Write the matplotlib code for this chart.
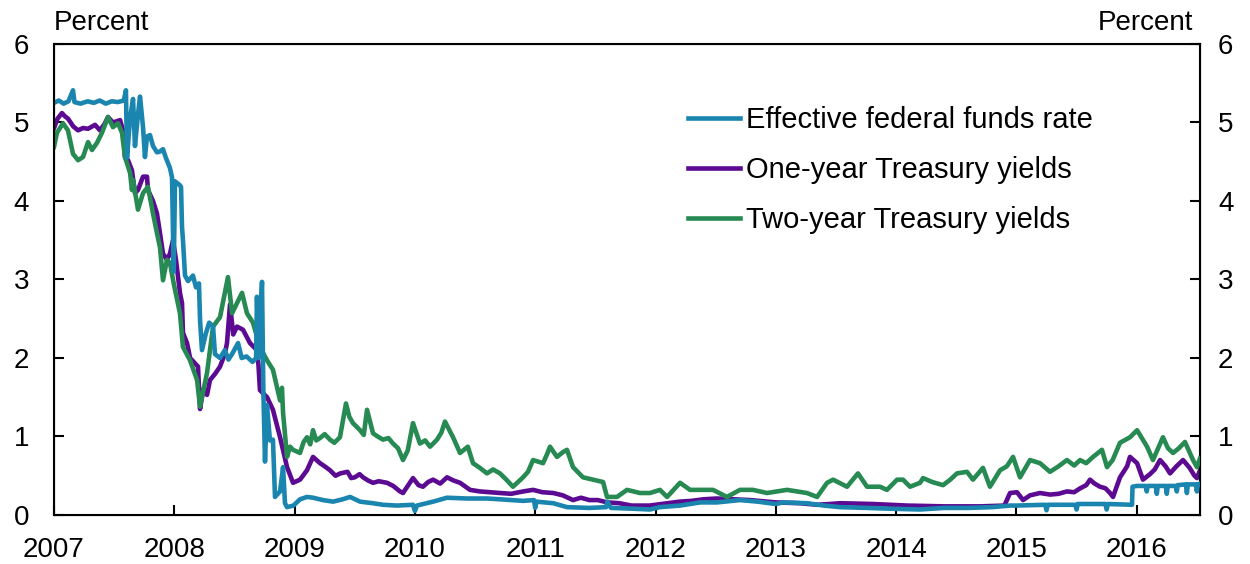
# -*- coding: utf-8 -*-

"""
Effective federal funds rate against one- and two-year Treasury yields, 2007-2016.
"""

import matplotlib

matplotlib.use("Agg")

import matplotlib.pyplot as plt

plt.rcParams["font.family"] = ["Liberation Sans", "DejaVu Sans"]

# Values (decimal year, percent).

fed_funds_dates = [
    2007.000, 2007.040, 2007.080, 2007.120, 2007.158, 2007.170, 2007.220,
    2007.280, 2007.330, 2007.380, 2007.430, 2007.480, 2007.530, 2007.580,
    2007.598, 2007.607, 2007.632, 2007.657, 2007.673, 2007.698, 2007.715,
    2007.740, 2007.756, 2007.773, 2007.798, 2007.823, 2007.856, 2007.881,
    2007.906, 2007.930, 2007.964, 2007.981, 2007.995, 2008.006, 2008.047,
    2008.056, 2008.064, 2008.072, 2008.089, 2008.114, 2008.155, 2008.180,
    2008.205, 2008.214, 2008.230, 2008.260, 2008.290, 2008.322, 2008.338,
    2008.380, 2008.420, 2008.450, 2008.480, 2008.530, 2008.560, 2008.600,
    2008.650, 2008.680, 2008.687, 2008.700, 2008.729, 2008.740, 2008.754,
    2008.770, 2008.795, 2008.820, 2008.837, 2008.879, 2008.904, 2008.920,
    2008.937, 2008.990, 2009.045, 2009.103, 2009.153, 2009.236, 2009.319,
    2009.400, 2009.461, 2009.544, 2009.650, 2009.735, 2009.850, 2009.984,
    2010.000, 2010.017, 2010.151, 2010.267, 2010.433, 2010.600, 2010.707,
    2010.900, 2010.990, 2011.000, 2011.010, 2011.150, 2011.264, 2011.450,
    2011.590, 2011.600, 2011.630, 2011.813, 2011.954, 2012.037, 2012.204,
    2012.370, 2012.511, 2012.702, 2012.850, 2013.000, 2013.060, 2013.259,
    2013.400, 2013.534, 2013.760, 2013.950, 2014.199, 2014.400, 2014.600,
    2014.800, 2014.947, 2015.000, 2015.240, 2015.250, 2015.260, 2015.490,
    2015.500, 2015.510, 2015.740, 2015.750, 2015.760, 2015.950, 2015.961,
    2015.965, 2016.000, 2016.075, 2016.083, 2016.091, 2016.159, 2016.167,
    2016.175, 2016.242, 2016.250, 2016.258, 2016.325, 2016.333, 2016.341,
    2016.409, 2016.417, 2016.425, 2016.492, 2016.500, 2016.508, 2016.526,
]
fed_funds = [
    5.25, 5.28, 5.24, 5.27, 5.41, 5.26, 5.24,
    5.27, 5.25, 5.28, 5.24, 5.27, 5.26, 5.28,
    5.41, 4.55, 5.05, 5.30, 4.70, 5.10, 5.33,
    4.94, 4.56, 4.82, 4.84, 4.70, 4.62, 4.63,
    4.66, 4.55, 4.42, 4.30, 3.10, 4.25, 4.20,
    4.18, 3.67, 3.50, 3.05, 2.98, 3.05, 2.90,
    2.95, 2.48, 2.10, 2.30, 2.45, 2.40, 2.05,
    2.00, 2.10, 1.98, 2.05, 2.19, 2.00, 2.02,
    1.95, 2.00, 2.78, 2.00, 2.97, 1.60, 0.68,
    1.40, 0.95, 0.96, 0.23, 0.30, 0.61, 0.15,
    0.10, 0.12, 0.20, 0.23, 0.22, 0.19, 0.17,
    0.20, 0.23, 0.17, 0.15, 0.13, 0.12, 0.13,
    0.05, 0.12, 0.17, 0.22, 0.21, 0.21, 0.20,
    0.18, 0.19, 0.09, 0.17, 0.15, 0.10, 0.09,
    0.10, 0.17, 0.09, 0.08, 0.07, 0.10, 0.12,
    0.16, 0.16, 0.19, 0.17, 0.14, 0.16, 0.15,
    0.12, 0.10, 0.09, 0.08, 0.07, 0.09, 0.09,
    0.10, 0.12, 0.12, 0.13, 0.06, 0.13, 0.13,
    0.07, 0.14, 0.14, 0.07, 0.14, 0.13, 0.13,
    0.36, 0.37, 0.37, 0.30, 0.37, 0.37, 0.27,
    0.37, 0.37, 0.27, 0.37, 0.37, 0.30, 0.38,
    0.39, 0.28, 0.39, 0.39, 0.30, 0.39, 0.40,
]

one_year_dates = [
    2007.000, 2007.030, 2007.066, 2007.090, 2007.116, 2007.160, 2007.200,
    2007.241, 2007.283, 2007.341, 2007.382, 2007.420, 2007.449, 2007.490,
    2007.530, 2007.549, 2007.574, 2007.590, 2007.615, 2007.648, 2007.673,
    2007.698, 2007.740, 2007.773, 2007.781, 2007.823, 2007.856, 2007.881,
    2007.906, 2007.939, 2007.964, 2007.989, 2008.014, 2008.047, 2008.064,
    2008.072, 2008.106, 2008.131, 2008.197, 2008.214, 2008.240, 2008.272,
    2008.297, 2008.340, 2008.380, 2008.420, 2008.438, 2008.463, 2008.490,
    2008.521, 2008.571, 2008.629, 2008.687, 2008.700, 2008.712, 2008.771,
    2008.820, 2008.879, 2008.937, 2008.987, 2009.045, 2009.103, 2009.153,
    2009.211, 2009.250, 2009.294, 2009.340, 2009.380, 2009.440, 2009.470,
    2009.500, 2009.540, 2009.569, 2009.610, 2009.652, 2009.700, 2009.768,
    2009.820, 2009.876, 2009.901, 2009.984, 2010.030, 2010.067, 2010.110,
    2010.151, 2010.210, 2010.267, 2010.320, 2010.375, 2010.458, 2010.541,
    2010.620, 2010.707, 2010.800, 2010.900, 2010.982, 2011.060, 2011.150,
    2011.230, 2011.314, 2011.380, 2011.450, 2011.520, 2011.600, 2011.700,
    2011.800, 2011.950, 2012.096, 2012.200, 2012.300, 2012.400, 2012.511,
    2012.650, 2012.786, 2013.000, 2013.200, 2013.343, 2013.450, 2013.534,
    2013.808, 2014.091, 2014.400, 2014.700, 2014.900, 2014.947, 2015.005,
    2015.055, 2015.113, 2015.196, 2015.280, 2015.350, 2015.420, 2015.480,
    2015.530, 2015.580, 2015.612, 2015.650, 2015.695, 2015.740, 2015.778,
    2015.803, 2015.861, 2015.920, 2015.944, 2016.003, 2016.052, 2016.110,
    2016.150, 2016.194, 2016.240, 2016.277, 2016.330, 2016.385, 2016.440,
    2016.480, 2016.501, 2016.526,
]
one_year = [
    4.93, 5.05, 5.12, 5.08, 5.05, 4.95, 4.90,
    4.93, 4.92, 4.97, 4.90, 4.98, 5.07, 5.00,
    5.02, 5.03, 4.90, 4.56, 4.52, 4.39, 4.10,
    4.14, 4.31, 4.31, 4.14, 4.00, 3.84, 3.59,
    3.33, 3.25, 3.33, 3.50, 3.25, 2.83, 2.70,
    2.32, 2.19, 2.00, 1.89, 1.35, 1.60, 1.53,
    1.72, 1.80, 1.89, 2.05, 2.19, 2.68, 2.30,
    2.40, 2.36, 2.19, 2.10, 1.90, 1.59, 1.50,
    1.34, 0.99, 0.61, 0.41, 0.45, 0.57, 0.74,
    0.66, 0.62, 0.57, 0.50, 0.53, 0.55, 0.47,
    0.48, 0.52, 0.48, 0.44, 0.41, 0.43, 0.41,
    0.37, 0.30, 0.28, 0.47, 0.38, 0.36, 0.42,
    0.45, 0.40, 0.48, 0.44, 0.41, 0.32, 0.30,
    0.29, 0.28, 0.27, 0.30, 0.32, 0.29, 0.28,
    0.25, 0.19, 0.22, 0.19, 0.19, 0.16, 0.15,
    0.12, 0.12, 0.15, 0.17, 0.18, 0.20, 0.21,
    0.20, 0.19, 0.16, 0.15, 0.13, 0.14, 0.15,
    0.14, 0.12, 0.11, 0.11, 0.12, 0.28, 0.29,
    0.19, 0.25, 0.28, 0.26, 0.27, 0.30, 0.29,
    0.34, 0.38, 0.45, 0.40, 0.36, 0.34, 0.28,
    0.23, 0.48, 0.62, 0.74, 0.66, 0.45, 0.52,
    0.58, 0.70, 0.62, 0.53, 0.62, 0.70, 0.60,
    0.50, 0.47, 0.57,
]

two_year_dates = [
    2007.000, 2007.025, 2007.075, 2007.116, 2007.158, 2007.200, 2007.241,
    2007.283, 2007.316, 2007.357, 2007.399, 2007.449, 2007.490, 2007.532,
    2007.565, 2007.590, 2007.632, 2007.648, 2007.657, 2007.698, 2007.740,
    2007.781, 2007.823, 2007.856, 2007.881, 2007.906, 2007.939, 2007.964,
    2007.995, 2008.047, 2008.072, 2008.131, 2008.189, 2008.214, 2008.272,
    2008.322, 2008.380, 2008.446, 2008.480, 2008.563, 2008.604, 2008.654,
    2008.712, 2008.771, 2008.820, 2008.879, 2008.895, 2008.904, 2008.937,
    2008.962, 2008.987, 2009.045, 2009.075, 2009.103, 2009.130, 2009.153,
    2009.180, 2009.211, 2009.250, 2009.294, 2009.330, 2009.377, 2009.427,
    2009.455, 2009.485, 2009.544, 2009.575, 2009.602, 2009.652, 2009.690,
    2009.735, 2009.780, 2009.818, 2009.860, 2009.901, 2009.940, 2009.984,
    2010.042, 2010.085, 2010.126, 2010.184, 2010.220, 2010.250, 2010.317,
    2010.375, 2010.440, 2010.483, 2010.540, 2010.599, 2010.650, 2010.707,
    2010.760, 2010.815, 2010.899, 2010.940, 2010.982, 2011.065, 2011.100,
    2011.123, 2011.181, 2011.230, 2011.264, 2011.314, 2011.397, 2011.480,
    2011.564, 2011.597, 2011.680, 2011.763, 2011.871, 2011.954, 2012.037,
    2012.096, 2012.204, 2012.287, 2012.370, 2012.478, 2012.594, 2012.702,
    2012.810, 2012.927, 2013.093, 2013.259, 2013.343, 2013.426, 2013.476,
    2013.592, 2013.683, 2013.758, 2013.866, 2013.924, 2014.008, 2014.057,
    2014.116, 2014.199, 2014.224, 2014.300, 2014.390, 2014.450, 2014.506,
    2014.589, 2014.639, 2014.722, 2014.780, 2014.864, 2014.920, 2014.972,
    2015.030, 2015.113, 2015.196, 2015.279, 2015.350, 2015.420, 2015.480,
    2015.529, 2015.580, 2015.637, 2015.711, 2015.753, 2015.800, 2015.861,
    2015.944, 2016.003, 2016.086, 2016.135, 2016.218, 2016.260, 2016.302,
    2016.350, 2016.401, 2016.468, 2016.501, 2016.526,
]
two_year = [
    4.69, 4.87, 4.99, 4.90, 4.60, 4.52, 4.56,
    4.75, 4.65, 4.74, 4.87, 5.07, 4.94, 4.99,
    4.87, 4.56, 4.36, 4.14, 4.27, 3.89, 4.10,
    4.18, 3.84, 3.59, 3.41, 2.99, 3.25, 3.21,
    2.95, 2.57, 2.14, 1.97, 1.72, 1.38, 1.81,
    2.40, 2.52, 3.03, 2.57, 2.83, 2.57, 2.45,
    2.14, 1.97, 1.85, 1.46, 1.62, 1.30, 0.74,
    0.87, 0.83, 0.79, 0.93, 0.99, 0.90, 1.08,
    0.95, 0.98, 1.03, 0.96, 0.92, 0.99, 1.42,
    1.25, 1.17, 1.08, 1.02, 1.34, 1.04, 1.00,
    0.96, 0.98, 0.91, 0.85, 0.70, 0.82, 1.17,
    0.91, 0.95, 0.87, 0.96, 1.05, 1.19, 0.99,
    0.79, 0.87, 0.66, 0.60, 0.53, 0.58, 0.53,
    0.45, 0.36, 0.48, 0.55, 0.70, 0.66, 0.78,
    0.87, 0.74, 0.80, 0.83, 0.61, 0.48, 0.45,
    0.42, 0.23, 0.23, 0.32, 0.28, 0.28, 0.32,
    0.23, 0.41, 0.32, 0.32, 0.32, 0.23, 0.32,
    0.32, 0.28, 0.32, 0.28, 0.23, 0.41, 0.45,
    0.36, 0.53, 0.36, 0.36, 0.32, 0.45, 0.45,
    0.36, 0.41, 0.47, 0.42, 0.38, 0.45, 0.53,
    0.55, 0.45, 0.60, 0.36, 0.57, 0.62, 0.74,
    0.48, 0.70, 0.66, 0.55, 0.62, 0.70, 0.63,
    0.70, 0.66, 0.74, 0.83, 0.61, 0.70, 0.92,
    0.99, 1.08, 0.87, 0.70, 0.99, 0.85, 0.79,
    0.85, 0.93, 0.70, 0.61, 0.72,
]

year_ticks = list(range(2007, 2017))
percent_ticks = [0, 1, 2, 3, 4, 5, 6]

BLUE = "#1a86b0"
PURPLE = "#5b0a91"
GREEN = "#268a52"

fig = plt.figure(figsize=(12.5, 5.64), dpi=100)
ax = fig.add_axes([0.0432, 0.0869, 0.9168, 0.8351])

line_one, = ax.plot(
    one_year_dates,
    one_year,
    color=PURPLE,
    linewidth=3.3,
    label="One-year Treasury yields",
    zorder=2,
)
line_two, = ax.plot(
    two_year_dates,
    two_year,
    color=GREEN,
    linewidth=3.3,
    label="Two-year Treasury yields",
    zorder=3,
)
line_fed, = ax.plot(
    fed_funds_dates,
    fed_funds,
    color=BLUE,
    linewidth=3.3,
    label="Effective federal funds rate",
    zorder=4,
)

ax.set_xlim(2007, 2016.526)
ax.set_ylim(0, 6)
ax.set_xticks(year_ticks)
ax.set_xticklabels([str(year) for year in year_ticks])
ax.set_yticks(percent_ticks)

ax_right = ax.twinx()
ax_right.set_ylim(0, 6)
ax_right.set_yticks(percent_ticks)

for spine in ax.spines.values():
    spine.set_linewidth(1.5)

ax.tick_params(
    axis="x",
    direction="in",
    length=7,
    width=1.5,
    pad=16,
    labelsize=20,
)
ax.tick_params(
    axis="y",
    direction="in",
    length=7,
    width=1.5,
    pad=18,
    labelsize=20,
)
ax_right.tick_params(
    axis="y",
    direction="in",
    length=7,
    width=1.5,
    pad=13,
    labelsize=20,
)

ax.text(0.0, 1.018, "Percent", transform=ax.transAxes,
        ha="left", va="bottom", fontsize=20)
ax.text(0.994, 1.018, "Percent", transform=ax.transAxes,
        ha="right", va="bottom", fontsize=20)

ax.legend(
    handles=[line_fed, line_one, line_two],
    loc="upper left",
    bbox_to_anchor=(0.553, 0.868),
    frameon=False,
    fontsize=21,
    handlelength=1.8,
    handletextpad=0.2,
    labelspacing=0.76,
    borderpad=0,
    borderaxespad=0,
)

fig.savefig("out.png", dpi=100)
